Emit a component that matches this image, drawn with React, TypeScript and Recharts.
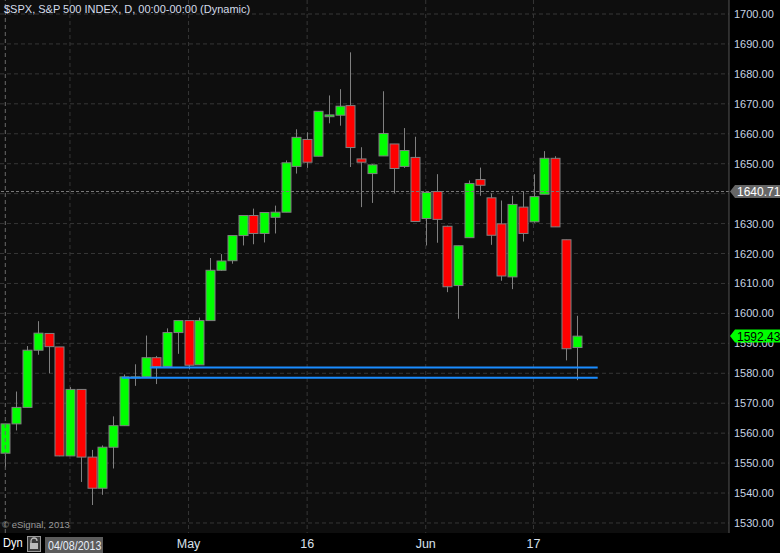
import React from "react";
import {
  ComposedChart,
  Bar,
  XAxis,
  YAxis,
  CartesianGrid,
  ReferenceLine,
} from "recharts";

// daily bars, 04/08/2013 .. 06/21/2013
const dates = [
  "04/08", "04/09", "04/10", "04/11", "04/12", "04/15", "04/16", "04/17", "04/18", "04/19",
  "04/22", "04/23", "04/24", "04/25", "04/26", "04/29", "04/30", "05/01", "05/02", "05/03",
  "05/06", "05/07", "05/08", "05/09", "05/10", "05/13", "05/14", "05/15", "05/16", "05/17",
  "05/20", "05/21", "05/22", "05/23", "05/24", "05/28", "05/29", "05/30", "05/31", "06/03",
  "06/04", "06/05", "06/06", "06/07", "06/10", "06/11", "06/12", "06/13", "06/14", "06/17",
  "06/18", "06/19", "06/20", "06/21",
];
const opens = [
  1553.3, 1563.1, 1568.6, 1587.7, 1593.3, 1588.8, 1552.4, 1574.6, 1552.0, 1541.6,
  1555.3, 1562.5, 1578.8, 1578.8, 1585.2, 1582.3, 1593.6, 1597.6, 1582.8, 1597.6,
  1614.4, 1617.6, 1626.0, 1632.7, 1626.7, 1632.1, 1633.8, 1649.1, 1658.1, 1652.5,
  1665.7, 1666.2, 1669.4, 1651.6, 1646.7, 1652.6, 1656.6, 1649.1, 1652.1, 1631.7,
  1640.7, 1629.1, 1609.3, 1625.3, 1644.7, 1638.6, 1629.9, 1612.2, 1635.5, 1630.6,
  1639.8, 1651.8, 1624.6, 1588.6,
];
const highs = [
  1563.1, 1573.9, 1589.1, 1597.4, 1593.3, 1588.8, 1575.4, 1574.6, 1554.4, 1555.9,
  1565.6, 1579.6, 1583.0, 1592.6, 1585.8, 1595.0, 1597.6, 1597.6, 1598.6, 1618.5,
  1619.8, 1626.0, 1632.8, 1635.0, 1633.7, 1636.0, 1651.1, 1661.5, 1660.5, 1667.5,
  1672.8, 1674.9, 1687.2, 1655.5, 1649.8, 1674.2, 1656.6, 1661.9, 1659.0, 1640.4,
  1646.5, 1629.3, 1622.6, 1644.4, 1648.7, 1640.1, 1637.7, 1639.3, 1640.8, 1646.5,
  1654.2, 1652.5, 1624.6, 1599.2,
];
const lows = [
  1548.6, 1560.9, 1568.6, 1586.2, 1580.0, 1552.3, 1552.4, 1543.7, 1536.0, 1539.4,
  1548.2, 1562.5, 1575.8, 1578.8, 1576.4, 1582.3, 1586.5, 1581.3, 1582.8, 1597.6,
  1614.2, 1616.6, 1622.7, 1623.1, 1623.7, 1626.7, 1633.8, 1646.7, 1648.6, 1652.5,
  1663.5, 1662.7, 1648.9, 1635.5, 1636.9, 1652.6, 1640.1, 1648.6, 1630.7, 1622.7,
  1623.6, 1607.1, 1598.2, 1625.3, 1639.3, 1622.9, 1610.9, 1608.1, 1624.0, 1630.3,
  1639.8, 1628.9, 1584.3, 1577.7,
];
const closes = [
  1563.1, 1568.6, 1587.7, 1593.4, 1588.9, 1552.4, 1574.6, 1552.0, 1541.6, 1555.3,
  1562.5, 1578.8, 1578.8, 1585.2, 1582.2, 1593.6, 1597.6, 1582.7, 1597.6, 1614.4,
  1617.5, 1626.0, 1632.7, 1626.7, 1633.7, 1633.8, 1650.3, 1658.8, 1650.5, 1667.5,
  1666.3, 1669.2, 1655.4, 1650.5, 1649.6, 1660.1, 1648.4, 1654.4, 1630.7, 1640.4,
  1631.4, 1608.9, 1622.6, 1643.4, 1642.8, 1626.1, 1612.5, 1636.4, 1626.7, 1639.0,
  1651.8, 1628.9, 1588.2, 1592.4,
];

const priceTicks = [1530, 1540, 1550, 1560, 1570, 1580, 1590, 1600, 1610, 1620, 1630, 1640, 1650, 1660, 1670, 1680, 1690, 1700];
const dateTickIdx = [6, 17, 28, 39, 49];
const dateTickText = ["", "May", "16", "Jun", "17"];

// support lines drawn by hand on the chart: [start bar, end bar, price]
const supportLines = [
  [13.4, 54.95, 1581.9],
  [10.8, 54.95, 1578.5],
];
const markerPrice = 1640.71;
const lastPrice = 1592.43;

const rows = dates.map((d, i) => ({
  i,
  date: d,
  open: opens[i],
  high: highs[i],
  low: lows[i],
  close: closes[i],
}));

const GREEN = "#00ff00";
const RED = "#ff0000";
const EDGE = "#808080";

function Candle(props: any) {
  const { x, y, width, height, payload } = props;
  if (x == null || payload == null) return null;
  const { open, close, high, low } = payload;
  const top = Math.min(y, y + height);
  const h = Math.abs(height);
  const k = h / (high - low || 1);
  const yOf = (v: number) => top + (high - v) * k;
  const cx = Math.round(x + width / 2) + 0.5;
  const bTop = yOf(Math.max(open, close));
  const bBot = yOf(Math.min(open, close));
  const bodyH = Math.max(bBot - bTop, 1);
  return (
    <g>
      <line x1={cx} x2={cx} y1={top} y2={top + h} stroke={EDGE} strokeWidth={1} />
      <rect
        x={cx - 4.5}
        y={bTop}
        width={9}
        height={bodyH}
        fill={close >= open ? GREEN : RED}
        stroke={EDGE}
        strokeWidth={1}
      />
    </g>
  );
}

// price axis tick: ordinary labels, plus the two price tags painted over them
function PriceTick(props: any) {
  const { x, y, payload } = props;
  const v = payload.value;
  if (v === markerPrice || v === lastPrice) {
    const tip = x - 4;
    const fill = v === lastPrice ? GREEN : "#666";
    const color = v === lastPrice ? "#000" : "#fff";
    return (
      <g>
        <polygon
          points={`${tip},${y} ${tip + 5},${y - 6.5} ${tip + 52},${y - 6.5} ${tip + 52},${y + 6.5} ${tip + 5},${y + 6.5}`}
          fill={fill}
        />
        <text x={tip + 7} y={y + 4.5} fill={color} fontSize={12} fontFamily="Arial, sans-serif">
          {v.toFixed(2)}
        </text>
      </g>
    );
  }
  return (
    <text x={x} y={y + 4} fill="#c8d4e4" fontSize={11} fontFamily="Arial, sans-serif">
      {v.toFixed(2)}
    </text>
  );
}

export default function App() {
  return (
    <div
      style={{
        position: "absolute",
        left: 0,
        top: 0,
        width: 780,
        height: 553,
        background: "#000",
        overflow: "hidden",
        fontFamily: "Arial, sans-serif",
      }}
    >
      <ComposedChart
        width={780}
        height={553}
        data={rows}
        margin={{ top: 0, right: 0, bottom: 0, left: 0 }}
      >
        <CartesianGrid
          stroke="#363636"
          strokeDasharray="4 3"
          fill="#0e0e0e"
          horizontalValues={priceTicks}
          verticalValues={dateTickIdx}
        />
        <XAxis
          dataKey="i"
          type="number"
          domain={[-0.49, 67.13]}
          allowDataOverflow
          ticks={dateTickIdx}
          tickFormatter={(v: number) => dateTickText[dateTickIdx.indexOf(v)] ?? ""}
          height={20}
          axisLine={false}
          tickLine={false}
          tickSize={4}
          tickMargin={2}
          tick={{ fill: "#d8e0ec", fontSize: 12.5 }}
        />
        <YAxis
          orientation="right"
          width={51}
          type="number"
          domain={[1526.65, 1704.68]}
          allowDataOverflow
          ticks={[...priceTicks.filter((t) => t !== 1640), markerPrice, lastPrice]}
          interval={0}
          axisLine={{ stroke: "#555" }}
          tickLine={false}
          tickSize={0}
          tickMargin={5}
          tick={(p: any) => <PriceTick {...p} />}
        />
        <ReferenceLine x={0} stroke="#6a6a6a" strokeDasharray="4 3" />
        <ReferenceLine y={markerPrice} stroke="#7a7a7a" strokeDasharray="3 2" />
        <Bar
          dataKey={(d: any) => [d.low, d.high]}
          barSize={9}
          isAnimationActive={false}
          shape={(p: any) => <Candle {...p} />}
        />
        {supportLines.map(([a, b, v], k) => (
          <ReferenceLine
            key={k}
            segment={[
              { x: a, y: v },
              { x: b, y: v },
            ]}
            stroke="#1a8cff"
            strokeWidth={2}
          />
        ))}
      </ComposedChart>

      <div
        style={{
          position: "absolute",
          left: 4,
          top: 3,
          fontSize: 11,
          lineHeight: "13px",
          color: "#d4dcea",
          whiteSpace: "nowrap",
        }}
      >
        $SPX, S&amp;P 500 INDEX, D, 00:00-00:00 (Dynamic)
      </div>
      <div
        style={{
          position: "absolute",
          left: 2,
          top: 519,
          fontSize: 9.5,
          lineHeight: "11px",
          color: "#9a9a9a",
          whiteSpace: "nowrap",
        }}
      >
        © eSignal, 2013
      </div>
      <div
        style={{
          position: "absolute",
          left: 3,
          top: 536,
          fontSize: 13,
          lineHeight: "14px",
          color: "#ffffff",
          transform: "scaleX(0.85)",
          transformOrigin: "left",
        }}
      >
        Dyn
      </div>
      <svg
        style={{ position: "absolute", left: 27, top: 536 }}
        width={14}
        height={16}
        viewBox="0 0 14 16"
      >
        <rect x={0.5} y={0.5} width={13} height={15} fill="#3a3a3a" stroke="#9a9a9a" />
        <path d="M4 7 V5 a3 3 0 0 1 6 0" fill="none" stroke="#bbb" strokeWidth={1.3} />
        <rect x={3} y={7} width={8} height={6} fill="#bbb" />
      </svg>
      <div
        style={{
          position: "absolute",
          left: 45,
          top: 537,
          width: 58,
          height: 16,
          background: "#5c5c5c",
          overflow: "hidden",
        }}
      >
        <div
          style={{
            position: "absolute",
            left: 3,
            top: 0,
            color: "#e8eef8",
            fontSize: 13,
            lineHeight: "17px",
            whiteSpace: "nowrap",
            transform: "scaleX(0.82)",
            transformOrigin: "left",
          }}
        >
          04/08/2013
        </div>
      </div>
    </div>
  );
}
